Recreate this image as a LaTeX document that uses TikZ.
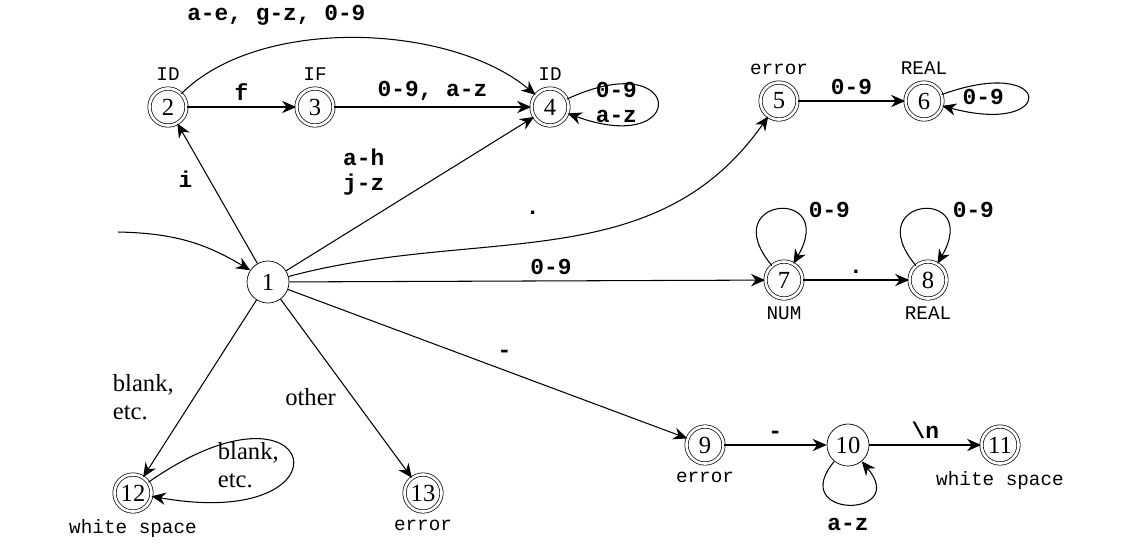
\documentclass[tikz,border=0pt]{standalone}
\usepackage{fontspec}
\setmainfont{Liberation Serif}
\setmonofont{Liberation Mono}
\usetikzlibrary{arrows.meta, positioning}

\begin{document}
\begin{tikzpicture}[x=0.02cm, y=-0.02cm,
    every node/.style={font=\fontsize{14}{16}\selectfont},
    state/.style={circle, draw, minimum size=0.84cm, inner sep=0pt},
    accept/.style={state, double, double distance=1.5pt, minimum size=0.74cm},
    tag/.style={font=\fontsize{11}{12}\selectfont\ttfamily},
    lab/.style={font=\fontsize{13}{14}\selectfont\ttfamily\bfseries, align=center},
    trans/.style={-{Stealth[length=8pt,width=7pt]}, semithick}]
    \useasboundingbox (0,0) rectangle (1136,556);

    % states
    \node[state]  (s1)  at (268,282) {1};
    \node[accept] (s2)  at (168,107) {2};
    \node[accept] (s3)  at (315,107) {3};
    \node[accept] (s4)  at (550,107) {4};
    \node[accept] (s5)  at (779,101) {5};
    \node[accept] (s6)  at (924,101) {6};
    \node[accept] (s7)  at (784,280) {7};
    \node[accept] (s8)  at (928,280) {8};
    \node[accept] (s9)  at (705,445) {9};
    \node[state]  (s10) at (848,445) {10};
    \node[accept] (s11) at (1000,445) {11};
    \node[accept] (s12) at (133,493) {12};
    \node[accept] (s13) at (423,493) {13};

    % token tags
    \node[tag, above=1pt of s2] (t2) {ID};
    \node[tag, above=1pt of s3] (t3) {IF};
    \node[tag, above=1pt of s4] (t4) {ID};
    \node[tag, above=1pt of s5] (t5) {error};
    \node[tag, above=1pt of s6] (t6) {REAL};
    \node[tag, below=1pt of s7] (t7) {NUM};
    \node[tag, below=1pt of s8] (t8) {REAL};
    \node[tag, below=1pt of s9] (t9) {error};
    \node[tag, below=1pt of s11] (t11) {white space};
    \node[tag, below=1pt of s12] (t12) {white space};
    \node[tag, below=1pt of s13] (t13) {error};

    % start
    \coordinate (start) at (118,232);
    \draw[trans] (start) to[bend left=15] (s1);

    % transitions
    \draw[trans] (s1) -- node[lab, left=6pt, pos=0.6] {i} (s2);
    \draw[trans] (s2) -- node[lab, above] {f} (s3);
    \draw[trans] (s3) -- node[lab, above] {0-9, a-z} (s4);
    \draw[trans] (s2) to[out=45, in=140, looseness=0.8] node[lab, above=8pt, pos=0.3] {a-e, g-z, 0-9} (s4);
    \draw[trans] (s1) -- node[lab, pos=0.45, above left=0pt and 4pt] {a-h\\j-z} (s4);
    \draw[trans] (s4) to[out=25, in=-20, distance=2.6cm] node[lab, left=8pt] {0-9\\a-z} (s4);
    \draw[trans] (s1) to[out=15, in=-125] node[lab, pos=0.45, above=12pt] {.} (s5);
    \draw[trans] (s5) -- node[lab, above] {0-9} (s6);
    \draw[trans] (s6) to[out=20, in=-15, distance=2.4cm] node[lab, left=10pt] {0-9} (s6);
    \draw[trans] (s1) -- node[lab, above, pos=0.55] {0-9} (s7);
    \draw[trans] (s7) to[out=130, in=60, distance=1.8cm] node[lab, right=14pt] {0-9} (s7);
    \draw[trans] (s7) -- node[lab, above] {.} (s8);
    \draw[trans] (s8) to[out=130, in=60, distance=1.8cm] node[lab, right=14pt] {0-9} (s8);
    \draw[trans] (s1) -- node[lab, above right=0pt and 2pt, pos=0.5] {-} (s9);
    \draw[trans] (s9) -- node[lab, above] {-} (s10);
    \draw[trans] (s10) -- node[lab, above] {\textbackslash n} (s11);
    \draw[trans] (s10) to[out=-130, in=-50, distance=1.5cm] node[lab, below=4pt] {a-z} (s10);
    \draw[trans] (s1) -- node[align=left, left=8pt, pos=0.55] {blank,\\etc.} (s12);
    \draw[trans] (s12) to[out=35, in=-10, distance=4.2cm] node[align=left, left=4pt, pos=0.55] {blank,\\etc.} (s12);
    \draw[trans] (s1) -- node[left=6pt, pos=0.55] {other} (s13);
\end{tikzpicture}
\end{document}
